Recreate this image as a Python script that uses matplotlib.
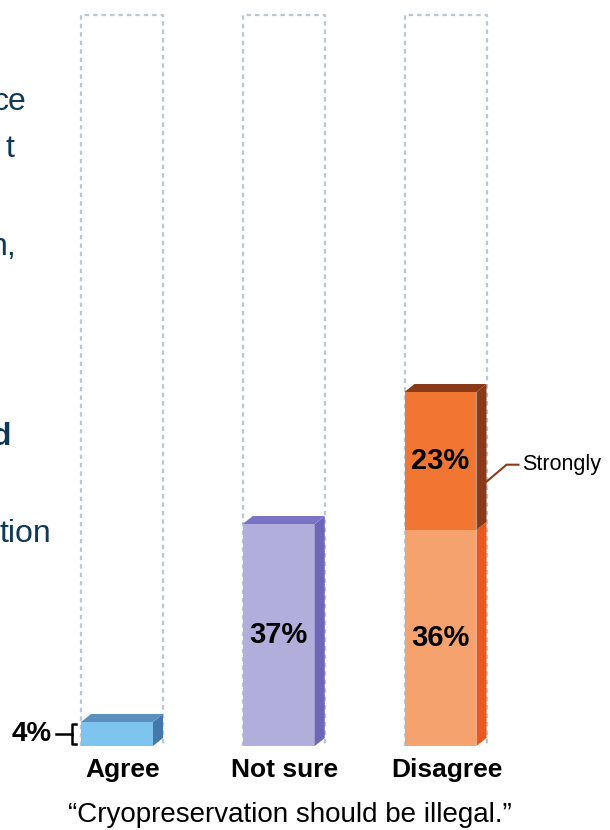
import matplotlib.pyplot as plt
import numpy as np

plt.rcParams['font.family'] = ['Liberation Sans', 'DejaVu Sans']

# Survey answers: "Cryopreservation should be illegal."
categories = ["Agree", "Not sure", "Disagree"]
base_pct = [4, 37, 36]      # agree / not sure / somewhat disagree
strong_pct = [0, 0, 23]     # strongly disagree, stacked on top
strong_label = "Strongly"
question = "\u201cCryopreservation should be illegal.\u201d"

# front, top, side colours for each segment
base_colors = [("#7dc5ee", "#5b8fbe", "#4379aa"),
               ("#b2aedb", "#7a74c6", "#6d67ba"),
               ("#f6a26f", "#e9601f", "#e9591f")]
strong_colors = ("#f07631", "#8a3a19", "#8a3a19")

W, H = 610, 830
fig = plt.figure(figsize=(W / 100, H / 100), dpi=100)
ax = fig.add_axes([0, 84 / H, 1, 746 / H])

step_px = 161.75   # pixels between bar centres
pct_px = 6.0       # pixels per percent
x0_px = 117        # first bar centre
ax.set_xlim(-x0_px / step_px, (W - x0_px) / step_px)
ax.set_ylim(0, 746 / pct_px)
ax.axis("off")

x = np.arange(len(categories))
width = 72 / step_px
dx = 10 / step_px
dy = 8 / pct_px
frame_top = 731 / pct_px
px = 1 / step_px


def box3d(xc, bottom, height, cols, top_face):
    front, top, side = cols
    ax.bar(xc, height, width, bottom=bottom, color=front, zorder=3)
    xl, xr = xc - width / 2, xc + width / 2
    yt = bottom + height
    ax.fill([xr, xr + dx, xr + dx, xr], [bottom, bottom + dy, yt + dy, yt],
            color=side, zorder=3, lw=0)
    if top_face:
        ax.fill([xl, xl + dx, xr + dx, xr], [yt, yt + dy, yt + dy, yt],
                color=top, zorder=3, lw=0)


for i in range(len(categories)):
    xl, xr = x[i] - width / 2, x[i] + width / 2 + dx
    # dashed outline showing the full column
    ax.plot([xl, xl, xr, xr], [0, frame_top, frame_top, 0], color="#b8c8d4",
            lw=1.6, ls=(0, (2.0, 1.8)), zorder=1)
    box3d(x[i], 0, base_pct[i], base_colors[i], strong_pct[i] == 0)
    if strong_pct[i]:
        box3d(x[i], base_pct[i], strong_pct[i], strong_colors, True)
    ax.text(x[i] + 6 * px, -4, categories[i], ha="center", va="center",
            fontsize=19, fontweight="bold", clip_on=False)

# value labels
for i in (1, 2):
    ax.text(x[i], base_pct[i] / 2, f"{base_pct[i]}%", ha="center",
            va="center", fontsize=21, fontweight="bold", zorder=5)
ax.text(x[2], base_pct[2] + strong_pct[2] / 2, f"{strong_pct[2]}%",
        ha="center", va="center", fontsize=21, fontweight="bold", zorder=5)

# small agree bar gets its label outside with a bracket
bl = x[0] - width / 2
ax.text(bl - 29 * px, base_pct[0] / 2, f"{base_pct[0]}%", ha="right",
        va="center", fontsize=20, fontweight="bold")
ax.plot([bl - 25 * px, bl - 9 * px], [base_pct[0] / 2] * 2, color="black",
        lw=1.8)
ax.plot([bl - 5 * px, bl - 9 * px, bl - 9 * px, bl - 5 * px],
        [0.4, 0.4, base_pct[0] - 0.4, base_pct[0] - 0.4], color="black", lw=1.8)

# leader for the strongly-disagree segment
xs = x[2] + width / 2 + dx
ys = base_pct[2] + strong_pct[2] * 0.35
ax.plot([xs, xs + 20 * px, xs + 32 * px], [ys, ys + 17 / pct_px, ys + 17 / pct_px],
        color="#8a3a19", lw=1.5, zorder=4)
ax.text(xs + 36 * px, ys + 17 / pct_px, strong_label, ha="left", va="center",
        fontsize=15.5, clip_on=False)

fig.text(290 / W, 1 - 815 / H, question, ha="center", va="center", fontsize=20)

# text spilling in from the neighbouring column
navy = "#0e3a57"
for s, xr, yb, bold in [("ce", 26, 110, False), ("t", 14, 157, False),
                        ("n,", 17, 255, False), ("d", 11, 445, True),
                        ("tion", 51, 542, False)]:
    fig.text(xr / W, 1 - yb / H, s, ha="right", va="baseline", fontsize=23,
             color=navy, fontweight="bold" if bold else "normal")

fig.savefig("out.png", dpi=100)
